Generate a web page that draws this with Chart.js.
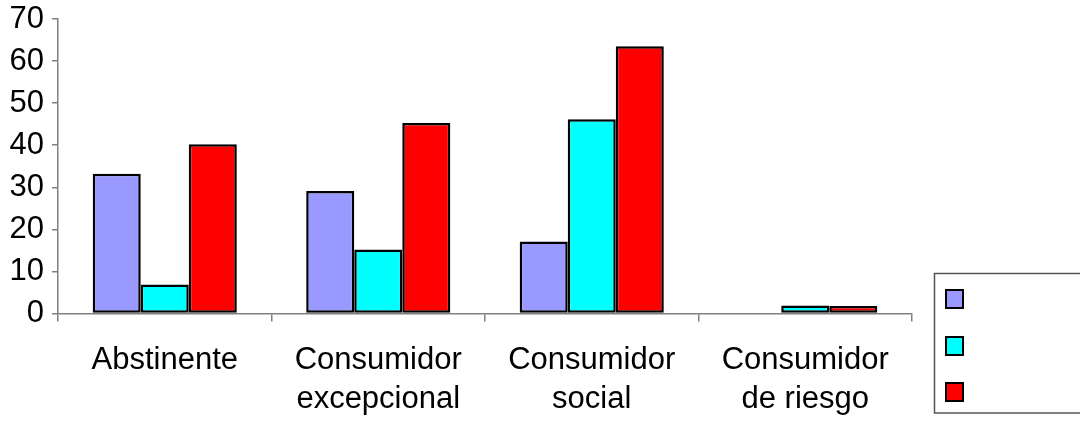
<!DOCTYPE html>
<html>
<head>
<meta charset="utf-8">
<script src="https://cdn.jsdelivr.net/npm/chart.js@4.4.1/dist/chart.umd.min.js"></script>
<style>
html,body{margin:0;padding:0;background:#fff;}
#wrap{width:1080px;height:422px;}
</style>
</head>
<body>
<div id="wrap"><canvas id="c" width="1080" height="422"></canvas></div>
<script>
const categories = [["Abstinente"], ["Consumidor", "excepcional"], ["Consumidor", "social"], ["Consumidor", "de riesgo"]];
const seriesNames = ["Serie 1", "Serie 2", "Serie 3"];
const series1 = [33.2, 29.1, 17.1, 0];
const series2 = [6.9, 15.2, 46.2, 1.9];
const series3 = [40.2, 45.3, 63.5, 1.8];
const yTicks = [0, 10, 20, 30, 40, 50, 60, 70];
const colors = ["#9999FF", "#00FFFF", "#FF0000"];

const FONT = "'Liberation Sans', Arial, sans-serif";

const legendBox = {
  id: 'legendBox',
  afterDraw(chart) {
    const ctx = chart.ctx;
    ctx.save();
    ctx.strokeStyle = '#555';
    ctx.lineWidth = 1.5;
    ctx.strokeRect(934.5, 273.5, 200, 139.5);
    const ys = [290, 337, 383];
    chart.data.datasets.forEach((ds, i) => {
      ctx.fillStyle = ds.backgroundColor;
      ctx.fillRect(946, ys[i], 17, 18);
      ctx.strokeStyle = '#000';
      ctx.lineWidth = 2;
      ctx.strokeRect(946, ys[i], 17, 18);
    });
    ctx.restore();
  }
};

const mk = (i, data) => ({
  label: seriesNames[i],
  data: data,
  backgroundColor: colors[i],
  borderColor: '#000',
  borderWidth: (c) => (c.raw === 0 ? 0 : 2.5),
  borderSkipped: false,
  barPercentage: 1,
  categoryPercentage: 0.675
});

new Chart(document.getElementById('c'), {
  type: 'bar',
  data: {
    labels: categories,
    datasets: [mk(0, series1), mk(1, series2), mk(2, series3)]
  },
  options: {
    responsive: false,
    animation: false,
    layout: { padding: { top: 19, right: 168, bottom: 0, left: 0 } },
    plugins: { legend: { display: false }, tooltip: { enabled: false } },
    scales: {
      x: {
        grid: { offset: true, drawOnChartArea: false, drawTicks: true, tickLength: 8, color: '#808080', lineWidth: 1.5 },
        border: { color: '#808080', width: 1.5 },
        ticks: { color: '#000', font: { family: FONT, size: 31, lineHeight: 1.26 }, padding: 19, maxRotation: 0, autoSkip: false },
        afterFit(s) { s.height = 108.5; s.paddingLeft = 0; s.paddingRight = 0; }
      },
      y: {
        min: 0, max: 70,
        afterBuildTicks(s) { s.ticks = yTicks.map(v => ({ value: v })); },
        grid: { drawOnChartArea: false, drawTicks: true, tickLength: 6, color: '#808080', lineWidth: 1.5 },
        border: { color: '#808080', width: 1.5 },
        ticks: { color: '#000', font: { family: FONT, size: 31 }, padding: 8 },
        afterFit(s) { s.width = 58; s.paddingTop = 0; s.paddingBottom = 0; }
      }
    }
  },
  plugins: [legendBox]
});
</script>
</body>
</html>
